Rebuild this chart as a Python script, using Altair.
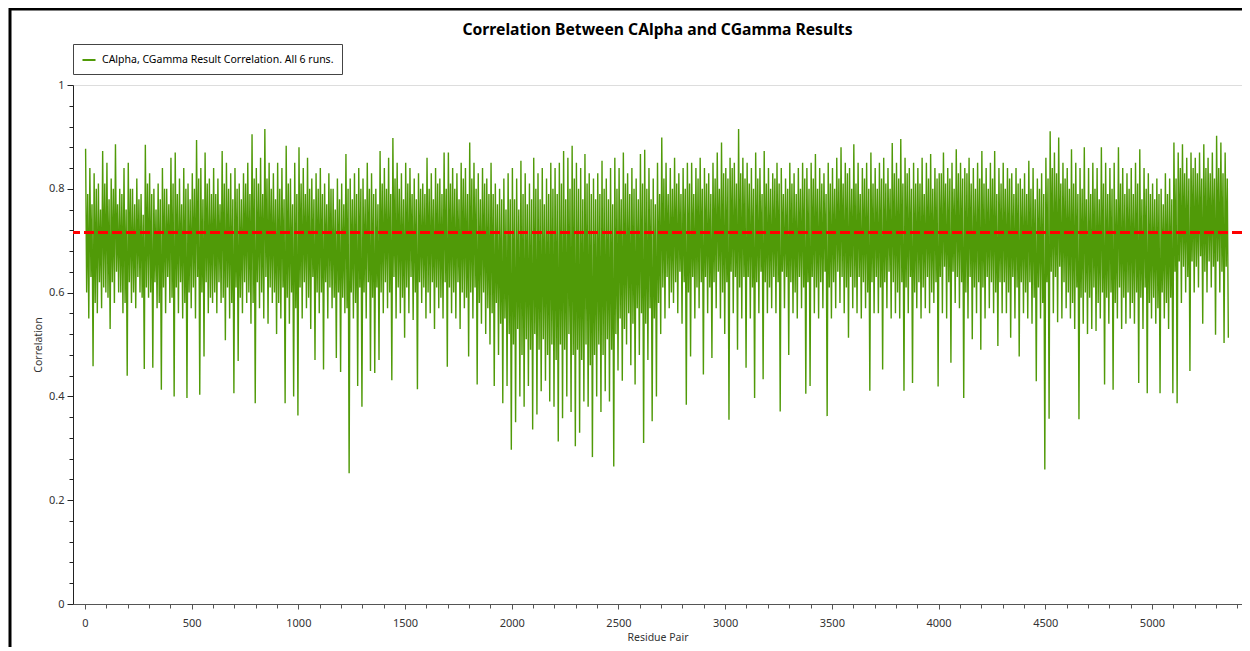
import altair as alt
import pandas as pd

TITLE = "Correlation Between CAlpha and CGamma Results"
SERIES = "CAlpha, CGamma Result Correlation. All 6 runs."
X_TITLE = "Residue Pair"
Y_TITLE = "Correlation"
FONT = "Noto Sans"
GREEN = "#509A08"

# residue pairs grouped in bins of 20 (5 bins per row = 100 pairs):
# highest and lowest correlation in each bin
BIN = 20
highs = [
    0.877, 0.84, 0.83, 0.81, 0.873,
    0.85, 0.82, 0.886, 0.80, 0.84,
    0.85, 0.80, 0.82, 0.79, 0.885,
    0.83, 0.80, 0.81, 0.84, 0.80,
    0.86, 0.87, 0.82, 0.84, 0.81,
    0.83, 0.894, 0.84, 0.87, 0.82,
    0.84, 0.82, 0.873, 0.85, 0.83,
    0.84, 0.81, 0.83, 0.85, 0.905,
    0.84, 0.86, 0.915, 0.85, 0.83,
    0.85, 0.84, 0.883, 0.82, 0.85,
    0.88, 0.84, 0.86, 0.82, 0.83,
    0.84, 0.81, 0.83, 0.80, 0.82,
    0.81, 0.867, 0.82, 0.83, 0.84,
    0.82, 0.85, 0.83, 0.80, 0.873,
    0.84, 0.86, 0.898, 0.85, 0.83,
    0.85, 0.84, 0.82, 0.83, 0.81,
    0.86, 0.83, 0.84, 0.82, 0.87,
    0.87, 0.84, 0.83, 0.85, 0.84,
    0.889, 0.85, 0.83, 0.84, 0.82,
    0.85, 0.81, 0.80, 0.82, 0.83,
    0.84, 0.82, 0.854, 0.83, 0.81,
    0.86, 0.83, 0.84, 0.82, 0.85,
    0.84, 0.85, 0.873, 0.86, 0.883,
    0.85, 0.84, 0.867, 0.83, 0.82,
    0.83, 0.854, 0.82, 0.84, 0.86,
    0.84, 0.87, 0.83, 0.84, 0.82,
    0.867, 0.875, 0.84, 0.82, 0.85,
    0.899, 0.85, 0.84, 0.86, 0.83,
    0.84, 0.85, 0.85, 0.84, 0.86,
    0.84, 0.83, 0.85, 0.87, 0.889,
    0.84, 0.86, 0.85, 0.915, 0.86,
    0.85, 0.84, 0.87, 0.84, 0.873,
    0.84, 0.83, 0.85, 0.84, 0.82,
    0.85, 0.83, 0.84, 0.85, 0.84,
    0.85, 0.867, 0.84, 0.83, 0.85,
    0.84, 0.86, 0.88, 0.85, 0.84,
    0.886, 0.85, 0.84, 0.85, 0.87,
    0.84, 0.85, 0.86, 0.84, 0.888,
    0.85, 0.896, 0.86, 0.84, 0.85,
    0.84, 0.86, 0.85, 0.867, 0.84,
    0.83, 0.87, 0.84, 0.85, 0.876,
    0.85, 0.84, 0.86, 0.84, 0.85,
    0.873, 0.84, 0.85, 0.873, 0.84,
    0.85, 0.84, 0.83, 0.84, 0.82,
    0.83, 0.854, 0.84, 0.82, 0.83,
    0.86, 0.911, 0.87, 0.899, 0.85,
    0.84, 0.876, 0.85, 0.84, 0.88,
    0.84, 0.85, 0.84, 0.88, 0.85,
    0.84, 0.85, 0.88, 0.84, 0.83,
    0.84, 0.85, 0.876, 0.84, 0.83,
    0.81, 0.82, 0.80, 0.83, 0.82,
    0.889, 0.87, 0.886, 0.86, 0.87,
    0.86, 0.87, 0.886, 0.86, 0.87,
    0.902, 0.889, 0.87,
]
lows = [
    0.55, 0.458, 0.56, 0.57, 0.60,
    0.53, 0.58, 0.60, 0.56, 0.44,
    0.58, 0.57, 0.60, 0.453, 0.59,
    0.455, 0.57, 0.413, 0.56, 0.58,
    0.40, 0.56, 0.55, 0.397, 0.57,
    0.55, 0.403, 0.477, 0.56, 0.58,
    0.56, 0.58, 0.508, 0.55, 0.406,
    0.468, 0.56, 0.58, 0.54, 0.387,
    0.57, 0.55, 0.54, 0.58, 0.52,
    0.55, 0.387, 0.54, 0.40, 0.363,
    0.55, 0.57, 0.53, 0.47, 0.56,
    0.452, 0.55, 0.57, 0.474, 0.447,
    0.56, 0.252, 0.55, 0.42, 0.38,
    0.55, 0.449, 0.445, 0.47, 0.56,
    0.57, 0.431, 0.55, 0.56, 0.513,
    0.56, 0.547, 0.414, 0.58, 0.55,
    0.56, 0.53, 0.57, 0.55, 0.457,
    0.56, 0.55, 0.53, 0.57, 0.477,
    0.55, 0.423, 0.54, 0.52, 0.50,
    0.42, 0.48, 0.387, 0.42, 0.297,
    0.35, 0.40, 0.38, 0.42, 0.336,
    0.365, 0.41, 0.43, 0.39, 0.38,
    0.313, 0.358, 0.40, 0.37, 0.304,
    0.33, 0.39, 0.38, 0.283, 0.40,
    0.37, 0.41, 0.39, 0.265, 0.45,
    0.43, 0.50, 0.46, 0.423, 0.48,
    0.31, 0.47, 0.352, 0.40, 0.52,
    0.55, 0.57, 0.58, 0.56, 0.54,
    0.384, 0.477, 0.55, 0.57, 0.442,
    0.56, 0.474, 0.57, 0.55, 0.52,
    0.355, 0.56, 0.49, 0.55, 0.455,
    0.55, 0.397, 0.56, 0.433, 0.56,
    0.57, 0.56, 0.371, 0.57, 0.48,
    0.56, 0.55, 0.57, 0.405, 0.42,
    0.56, 0.55, 0.57, 0.362, 0.55,
    0.57, 0.58, 0.56, 0.513, 0.57,
    0.56, 0.55, 0.57, 0.411, 0.56,
    0.56, 0.452, 0.57, 0.55, 0.56,
    0.55, 0.411, 0.56, 0.426, 0.57,
    0.55, 0.57, 0.56, 0.58, 0.419,
    0.56, 0.55, 0.465, 0.58, 0.57,
    0.397, 0.55, 0.51, 0.56, 0.49,
    0.55, 0.57, 0.56, 0.497, 0.56,
    0.56, 0.513, 0.55, 0.477, 0.56,
    0.55, 0.54, 0.429, 0.55, 0.259,
    0.357, 0.56, 0.543, 0.55, 0.57,
    0.55, 0.53, 0.356, 0.54, 0.52,
    0.53, 0.526, 0.55, 0.423, 0.54,
    0.413, 0.55, 0.53, 0.54, 0.55,
    0.54, 0.426, 0.53, 0.406, 0.55,
    0.54, 0.406, 0.55, 0.53, 0.406,
    0.387, 0.58, 0.60, 0.449, 0.60,
    0.61, 0.54, 0.60, 0.61, 0.519,
    0.60, 0.503, 0.513,
]
# edges of the dense core inside each bin (where the lines merge into solid green)
inner_hi = [
    0.79, 0.77, 0.80, 0.76, 0.81,
    0.78, 0.80, 0.77, 0.79, 0.76,
    0.80, 0.77, 0.78, 0.75, 0.81,
    0.79, 0.76, 0.78, 0.80, 0.77,
    0.81, 0.79, 0.77, 0.80, 0.78,
    0.80, 0.82, 0.78, 0.81, 0.79,
    0.79, 0.77, 0.81, 0.80, 0.78,
    0.80, 0.78, 0.81, 0.79, 0.82,
    0.81, 0.79, 0.82, 0.80, 0.78,
    0.80, 0.78, 0.81, 0.77, 0.79,
    0.81, 0.79, 0.80, 0.78, 0.80,
    0.79, 0.77, 0.80, 0.76, 0.78,
    0.77, 0.80, 0.78, 0.79, 0.80,
    0.78, 0.80, 0.79, 0.77, 0.81,
    0.80, 0.79, 0.82, 0.80, 0.78,
    0.81, 0.79, 0.78, 0.80, 0.79,
    0.80, 0.78, 0.81, 0.79, 0.80,
    0.81, 0.80, 0.78, 0.82, 0.79,
    0.82, 0.80, 0.78, 0.81, 0.79,
    0.79, 0.77, 0.78, 0.76, 0.78,
    0.78, 0.76, 0.79, 0.77, 0.78,
    0.80, 0.78, 0.77, 0.79, 0.80,
    0.79, 0.81, 0.78, 0.80, 0.82,
    0.80, 0.78, 0.81, 0.79, 0.78,
    0.79, 0.80, 0.78, 0.77, 0.80,
    0.78, 0.81, 0.79, 0.80, 0.78,
    0.81, 0.80, 0.78, 0.77, 0.79,
    0.82, 0.79, 0.80, 0.81, 0.79,
    0.80, 0.81, 0.79, 0.82, 0.80,
    0.81, 0.79, 0.82, 0.80, 0.83,
    0.82, 0.84, 0.81, 0.83, 0.82,
    0.81, 0.80, 0.82, 0.79, 0.81,
    0.80, 0.82, 0.81, 0.79, 0.80,
    0.81, 0.79, 0.80, 0.82, 0.80,
    0.82, 0.80, 0.81, 0.79, 0.81,
    0.80, 0.82, 0.81, 0.83, 0.80,
    0.81, 0.79, 0.82, 0.80, 0.81,
    0.80, 0.82, 0.81, 0.80, 0.83,
    0.82, 0.81, 0.83, 0.80, 0.81,
    0.81, 0.79, 0.82, 0.80, 0.82,
    0.83, 0.81, 0.82, 0.80, 0.83,
    0.82, 0.83, 0.81, 0.80, 0.82,
    0.81, 0.80, 0.82, 0.79, 0.81,
    0.80, 0.82, 0.79, 0.81, 0.80,
    0.79, 0.80, 0.78, 0.80, 0.79,
    0.82, 0.84, 0.83, 0.81, 0.82,
    0.80, 0.81, 0.79, 0.80, 0.78,
    0.79, 0.80, 0.78, 0.81, 0.79,
    0.80, 0.78, 0.81, 0.79, 0.80,
    0.79, 0.81, 0.78, 0.80, 0.79,
    0.78, 0.79, 0.77, 0.79, 0.78,
    0.82, 0.84, 0.83, 0.82, 0.84,
    0.83, 0.82, 0.84, 0.83, 0.82,
    0.84, 0.83, 0.82,
]
inner_lo = [
    0.60, 0.63, 0.58, 0.62, 0.61,
    0.59, 0.62, 0.64, 0.60, 0.58,
    0.62, 0.60, 0.63, 0.59, 0.61,
    0.60, 0.62, 0.58, 0.61, 0.63,
    0.59, 0.61, 0.62, 0.58, 0.60,
    0.61, 0.63, 0.60, 0.62, 0.59,
    0.60, 0.62, 0.59, 0.61, 0.58,
    0.61, 0.59, 0.62, 0.60, 0.58,
    0.62, 0.60, 0.63, 0.61, 0.60,
    0.58, 0.61, 0.59, 0.60, 0.57,
    0.61, 0.62, 0.59, 0.63, 0.60,
    0.60, 0.62, 0.61, 0.59, 0.60,
    0.59, 0.57, 0.60, 0.58, 0.61,
    0.60, 0.62, 0.59, 0.61, 0.60,
    0.62, 0.60, 0.63, 0.61, 0.59,
    0.61, 0.63, 0.60, 0.62, 0.61,
    0.60, 0.62, 0.61, 0.59, 0.62,
    0.61, 0.60, 0.62, 0.60, 0.59,
    0.60, 0.61, 0.58, 0.60, 0.57,
    0.56, 0.58, 0.54, 0.55, 0.52,
    0.50, 0.53, 0.48, 0.51, 0.49,
    0.52, 0.49, 0.51, 0.48, 0.50,
    0.47, 0.50, 0.49, 0.52, 0.48,
    0.49, 0.47, 0.50, 0.46, 0.48,
    0.50, 0.48, 0.51, 0.49, 0.52,
    0.55, 0.53, 0.56, 0.54, 0.57,
    0.56, 0.54, 0.57, 0.55, 0.58,
    0.61, 0.63, 0.60, 0.62, 0.64,
    0.62, 0.60, 0.63, 0.61, 0.62,
    0.63, 0.61, 0.62, 0.64, 0.60,
    0.62, 0.64, 0.63, 0.61, 0.63,
    0.63, 0.61, 0.62, 0.64, 0.62,
    0.61, 0.63, 0.62, 0.64, 0.63,
    0.62, 0.60, 0.63, 0.61, 0.62,
    0.63, 0.61, 0.62, 0.64, 0.61,
    0.62, 0.64, 0.63, 0.61, 0.63,
    0.61, 0.63, 0.62, 0.60, 0.62,
    0.63, 0.61, 0.62, 0.64, 0.62,
    0.60, 0.62, 0.61, 0.63, 0.60,
    0.62, 0.61, 0.63, 0.60, 0.62,
    0.63, 0.65, 0.62, 0.64, 0.63,
    0.62, 0.60, 0.63, 0.61, 0.62,
    0.61, 0.63, 0.62, 0.60, 0.62,
    0.62, 0.60, 0.63, 0.61, 0.62,
    0.60, 0.62, 0.59, 0.61, 0.58,
    0.62, 0.64, 0.63, 0.65, 0.62,
    0.60, 0.58, 0.61, 0.59, 0.60,
    0.59, 0.61, 0.58, 0.60, 0.59,
    0.60, 0.58, 0.61, 0.59, 0.60,
    0.58, 0.60, 0.59, 0.61, 0.58,
    0.59, 0.57, 0.60, 0.58, 0.59,
    0.64, 0.66, 0.65, 0.63, 0.66,
    0.65, 0.67, 0.64, 0.66, 0.65,
    0.66, 0.64, 0.65,
]

mean_corr = 0.716
x_domain = [-56, 5422]
y_domain = [0, 1]
x_ticks = list(range(0, 5401, 100))
y_ticks = [round(i * 0.04, 2) for i in range(26)]

rows = []
for i in range(len(highs)):
    start = i * BIN
    for off, val in ((3, highs[i]), (8, inner_lo[i]), (13, inner_hi[i]), (18, lows[i])):
        rows.append({"pair": start + off, "corr": val, "series": SERIES})
df = pd.DataFrame(rows)

x_axis = alt.Axis(
    title=X_TITLE, values=x_ticks, tickCount=200, format="d",
    labelExpr="datum.value % 500 === 0 ? datum.label : ''",
    tickSize={"condition": {"test": "datum.value % 500 === 0", "value": 5}, "value": 4},
    grid=False, labelFont=FONT, labelFontSize=11, labelColor="#333",
    labelPadding=8, titleFont=FONT, titleFontSize=10.5, titleFontWeight="normal",
    titleColor="#333", titlePadding=4, domainColor="#555", tickColor="#555",
    labelFlush=False, labelOverlap=False,
)
y_axis = alt.Axis(
    title=Y_TITLE, values=y_ticks, tickCount=200, format=".1~f",
    labelExpr="abs(datum.value * 5 - round(datum.value * 5)) < 0.001 ? datum.label : ''",
    tickSize={"condition": {"test": "abs(datum.value * 5 - round(datum.value * 5)) < 0.001", "value": 6}, "value": 4},
    grid=False, labelFont=FONT, labelFontSize=11, labelColor="#333",
    labelPadding=3, titleFont=FONT, titleFontSize=10.5, titleFontWeight="normal",
    titleColor="#333", titlePadding=5, domainColor="#222", tickColor="#222",
    labelFlush=False, labelOverlap=False,
)

line = alt.Chart(df).mark_line(strokeWidth=1.4, clip=True).encode(
    x=alt.X("pair:Q", scale=alt.Scale(domain=x_domain, nice=False, zero=False), axis=x_axis),
    y=alt.Y("corr:Q", scale=alt.Scale(domain=y_domain, nice=False), axis=y_axis),
    color=alt.Color(
        "series:N",
        scale=alt.Scale(range=[GREEN]),
        legend=alt.Legend(
            title=None, orient="none", legendX=0, legendY=-41,
            strokeColor="#444", fillColor="white", padding=8,
            labelFont=FONT, labelFontSize=10.5, labelColor="black", labelLimit=0,
            symbolType="stroke", symbolStrokeWidth=2, symbolSize=170, labelOffset=5,
        ),
    ),
)

mean_rule = alt.Chart(pd.DataFrame({"m": [mean_corr]})).mark_rule(
    color="#FF0000", strokeWidth=3, strokeDash=[10, 4]
).encode(y=alt.datum(mean_corr))

frame = alt.Chart(pd.DataFrame({"f": [0]})).mark_rect(
    fillOpacity=0, stroke="black", strokeWidth=3
).encode(
    x=alt.value(-63), x2=alt.value(1300), y=alt.value(-76), y2=alt.value(700)
)

chart = alt.layer(frame, line, mean_rule).properties(
    width=1169,
    height=519,
    autosize=alt.AutoSizeParams(type="none"),
    padding={"left": 65, "top": 77, "right": 0, "bottom": 43},
    title=alt.TitleParams(
        TITLE, font=FONT, fontSize=15.7, fontWeight="bold", color="black",
        anchor="middle", frame="group", offset=-31,
    ),
).configure_view(stroke="#555", strokeWidth=1).configure(background="white")

chart.save("out.html", embed_options={"renderer": "svg", "actions": False})
